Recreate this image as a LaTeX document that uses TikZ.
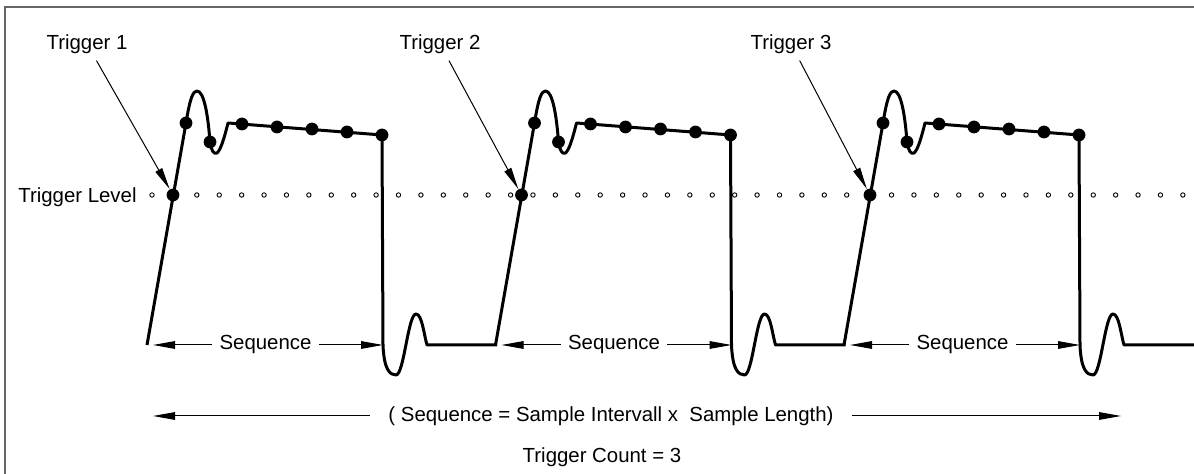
\documentclass[tikz,border=0pt]{standalone}
\usepackage{fontspec}
\setmainfont{Liberation Sans}
\usetikzlibrary{arrows.meta}

\begin{document}
\begin{tikzpicture}[x=0.5pt, y=-0.5pt, every node/.style={font=\fontsize{10.2}{12}\selectfont},
  wave/.style={line width=1.5pt, line join=round},
  sample/.style={circle, fill, inner sep=0pt, minimum size=6.4pt},
  pointer/.style={-{Triangle[length=11pt,width=3.8pt]}, line width=0.5pt}]
 \useasboundingbox (0,0) rectangle (1194,474);
 \draw[black!60, line width=0.8pt] (5,474) -- (5,7) -- (1194,7);
 \node[anchor=east, inner sep=0pt] (lvl) at (137,197) {Trigger Level};
 \foreach \i in {0,...,46}
   \draw[line width=0.45pt] (152+\i*22.41,195) circle (1.1pt);
 \foreach \k/\lx/\n in {0/87/1, 1/440/2, 2/791/3} {
  \begin{scope}[xshift=\k*174.25pt]
   \draw[wave] (147,345) -- (186,123) .. controls (190,98) and (193,91) .. (197,91)
     .. controls (204,91) and (208,115) .. (210,142) .. controls (211,150) and (214,155) .. (217,153)
     .. controls (221,150) and (225,135) .. (228,123) -- (382,135) -- (383,345)
     .. controls (384,370) and (390,375) .. (396,375) .. controls (404,375) and (408,314) .. (416,314)
     .. controls (422,314) and (424,335) .. (427,345) -- (497,345);
   \foreach \px/\py in {186/123, 210/142, 242/124, 277/127, 312/129, 347/132, 382/135}
     \node[sample] at (\px,\py) {};
   \node[sample] (d\k) at (173,195) {};
   \node[inner xsep=3.5pt] (s\k) at (265.5,345) {Sequence};
   \coordinate (sl\k) at (153,345);
   \coordinate (sr\k) at (383,345);
   \draw[pointer] (s\k) -- (sl\k);
   \draw[pointer] (s\k) -- (sr\k);
  \end{scope}
  \node (t\k) at (\lx,44) {Trigger \n};
  \draw[pointer] (t\k) -- (d\k);
 }
 \node[inner xsep=9pt] (eq) at (611,416) {( Sequence = Sample Intervall x\ \ Sample Length)};
 \coordinate (el) at (153,416);
 \coordinate (er) at (1121,416);
 \draw[pointer] (eq) -- (el);
 \draw[pointer] (eq) -- (er);
 \node (cnt) at (602,457) {Trigger Count = 3};
\end{tikzpicture}
\end{document}
